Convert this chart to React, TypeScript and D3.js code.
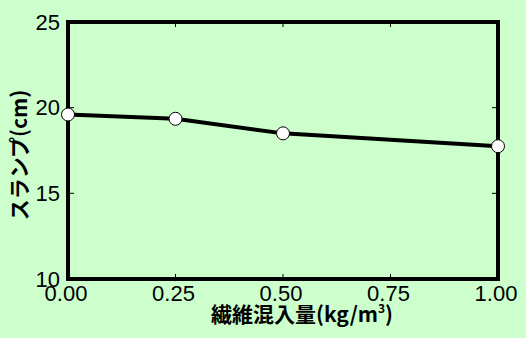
import React from "react";
import * as d3 from "d3";

const fiberContent = [0, 0.25, 0.5, 1.0];
const slumpValues = [19.6, 19.35, 18.5, 17.75];
const xTicks = [0, 0.25, 0.5, 0.75, 1.0];
const xTickLabels = ["0.00", "0.25", "0.50", "0.75", "1.00"];
const yTicks = [10, 15, 20, 25];
const yTickLabels = ["10", "15", "20", "25"];
const xTitle = "繊維混入量(kg/m";
const yTitle = "スランプ(cm)";

const W = 526;
const H = 338;
const BG = "#CCFFCC";
const TICK_FONT = "'Liberation Sans', Arial, sans-serif";
const TITLE_FONT = "'Noto Sans CJK JP', 'Noto Sans', sans-serif";

export default function App() {
  const x = d3.scaleLinear().domain([0, 1]).range([68, 498]);
  const y = d3.scaleLinear().domain([10, 25]).range([279, 22]);
  const line = d3
    .line<number>()
    .x((_, i) => x(fiberContent[i]))
    .y((d) => y(d));
  const [x0, x1] = x.range();
  const [y0, y1] = y.range();
  const tl = 5;

  return (
    <svg
      width={W}
      height={H}
      style={{ position: "fixed", left: 0, top: 0, display: "block" }}
    >
      <rect x={0} y={0} width={W} height={H} fill={BG} />
      {/* ticks */}
      {xTicks.map((t) => (
        <g key={"xt" + t}>
          <line x1={x(t)} x2={x(t)} y1={y0} y2={y0 - tl} stroke="#000" strokeWidth={1} />
          <line x1={x(t)} x2={x(t)} y1={y1} y2={y1 + tl} stroke="#000" strokeWidth={1} />
        </g>
      ))}
      {yTicks.map((t) => (
        <g key={"yt" + t}>
          <line x1={x0} x2={x0 + tl + 1} y1={y(t)} y2={y(t)} stroke="#000" strokeWidth={1} />
          <line x1={x1} x2={x1 - tl - 1} y1={y(t)} y2={y(t)} stroke="#000" strokeWidth={1} />
        </g>
      ))}
      {/* frame */}
      <rect
        x={x0}
        y={y1}
        width={x1 - x0}
        height={y0 - y1}
        fill="none"
        stroke="#000"
        strokeWidth={4}
      />
      {/* tick labels */}
      {yTicks.map((t, i) => (
        <text
          key={"yl" + t}
          x={60}
          y={y(t) + 7.5}
          textAnchor="end"
          fontFamily={TICK_FONT}
          fontSize={22}
          fill="#000"
        >
          {yTickLabels[i]}
        </text>
      ))}
      {xTicks.map((t, i) => (
        <text
          key={"xl" + t}
          x={x(t) - 2}
          y={301}
          textAnchor="middle"
          fontFamily={TICK_FONT}
          fontSize={22}
          fill="#000"
        >
          {xTickLabels[i]}
        </text>
      ))}
      {/* series */}
      <path d={line(slumpValues) || ""} fill="none" stroke="#000" strokeWidth={4} />
      {slumpValues.map((v, i) => (
        <circle
          key={"pt" + i}
          cx={x(fiberContent[i])}
          cy={y(v)}
          r={6.5}
          fill="#fff"
          stroke="#000"
          strokeWidth={1}
        />
      ))}
      {/* titles */}
      <text
        x={302}
        y={322}
        textAnchor="middle"
        fontFamily={TITLE_FONT}
        fontWeight="bold"
        fontSize={21}
        fill="#000"
      >
        {xTitle}
        <tspan fontSize={12} dy={-9}>3</tspan>
        <tspan dy={9}>)</tspan>
      </text>
      <text
        transform="translate(27,155) rotate(-90)"
        textAnchor="middle"
        fontFamily={TITLE_FONT}
        fontWeight="bold"
        fontSize={21}
        fill="#000"
      >
        {yTitle}
      </text>
    </svg>
  );
}
